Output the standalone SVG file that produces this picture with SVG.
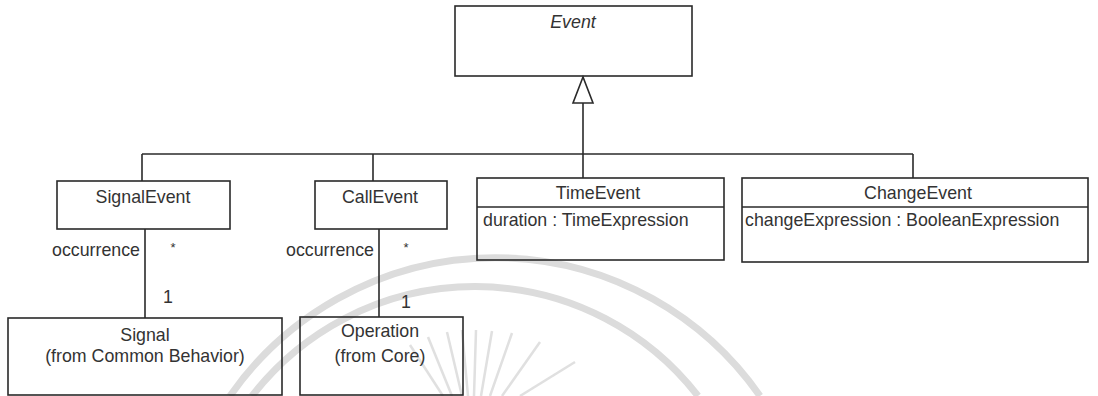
<svg xmlns="http://www.w3.org/2000/svg" width="1098" height="396" viewBox="0 0 1098 396">
<style>
.box{fill:none;stroke:#2a2a2a;stroke-width:1.6}
.ln{fill:none;stroke:#2a2a2a;stroke-width:1.6}
text{font-family:"Liberation Sans",Arial,sans-serif;font-size:17.8px;fill:#333}
.c{text-anchor:middle}
.wm{fill:none;stroke:#dcdcdc;stroke-width:7}
.ray{stroke:#e0e0e0;stroke-width:2.5}
</style>
<rect width="1098" height="396" fill="#fff"/>
<g id="watermark">
<path class="wm" d="M230,396 A323,323 0 0 1 760,396"/>
<path class="wm" d="M252,396 A282,282 0 0 1 698,396"/>
<g class="ray">
<line x1="428" y1="337" x2="452" y2="396"/>
<line x1="447" y1="332" x2="462" y2="396"/>
<line x1="462" y1="330" x2="468" y2="396"/>
<line x1="476" y1="330" x2="474" y2="396"/>
<line x1="492" y1="331" x2="481" y2="396"/>
<line x1="512" y1="333" x2="490" y2="396"/>
<line x1="540" y1="342" x2="502" y2="396"/>
<line x1="575" y1="362" x2="520" y2="396"/>
<line x1="410" y1="345" x2="443" y2="396"/>
</g>
</g>
<g id="connectors">
<line class="ln" x1="142" y1="154" x2="913" y2="154"/>
<line class="ln" x1="142" y1="154" x2="142" y2="181"/>
<line class="ln" x1="373" y1="154" x2="373" y2="181"/>
<line class="ln" x1="583" y1="103" x2="583" y2="178"/>
<line class="ln" x1="913" y1="154" x2="913" y2="178"/>
<polygon points="583,77 573,103 593,103" fill="#fff" stroke="#2a2a2a" stroke-width="1.6"/>
<line class="ln" x1="145" y1="229" x2="145" y2="318"/>
<line class="ln" x1="379" y1="229" x2="379" y2="317"/>
<text x="140" y="256" text-anchor="end">occurrence</text>
<text x="173" y="252" class="c" style="font-size:13px">*</text>
<text x="168" y="303" class="c">1</text>
<text x="374" y="256" text-anchor="end">occurrence</text>
<text x="406" y="252" class="c" style="font-size:13px">*</text>
<text x="406" y="308" class="c">1</text>
</g>
<g id="Event">
<rect class="box" x="455" y="6" width="237" height="70"/>
<text x="573" y="28" class="c" font-style="italic">Event</text>
</g>
<g id="SignalEvent">
<rect class="box" x="57" y="181" width="173" height="48"/>
<text x="143" y="203" class="c">SignalEvent</text>
</g>
<g id="CallEvent">
<rect class="box" x="315" y="181" width="132" height="48"/>
<text x="380" y="203" class="c">CallEvent</text>
</g>
<g id="TimeEvent">
<rect class="box" x="477" y="178" width="247" height="82"/>
<line class="ln" x1="477" y1="207" x2="724" y2="207"/>
<text x="598" y="199" class="c">TimeEvent</text>
<text x="483" y="226">duration : TimeExpression</text>
</g>
<g id="ChangeEvent">
<rect class="box" x="742" y="178" width="346" height="84"/>
<line class="ln" x1="742" y1="207" x2="1088" y2="207"/>
<text x="918" y="199" class="c">ChangeEvent</text>
<text x="745" y="226">changeExpression : BooleanExpression</text>
</g>
<g id="Signal">
<rect class="box" x="8" y="318" width="274" height="77"/>
<text x="145" y="341" class="c">Signal</text>
<text x="145" y="362" class="c">(from Common Behavior)</text>
</g>
<g id="Operation">
<rect class="box" x="300" y="317" width="163" height="78"/>
<text x="380" y="337" class="c">Operation</text>
<text x="380" y="362" class="c">(from Core)</text>
</g>
</svg>
